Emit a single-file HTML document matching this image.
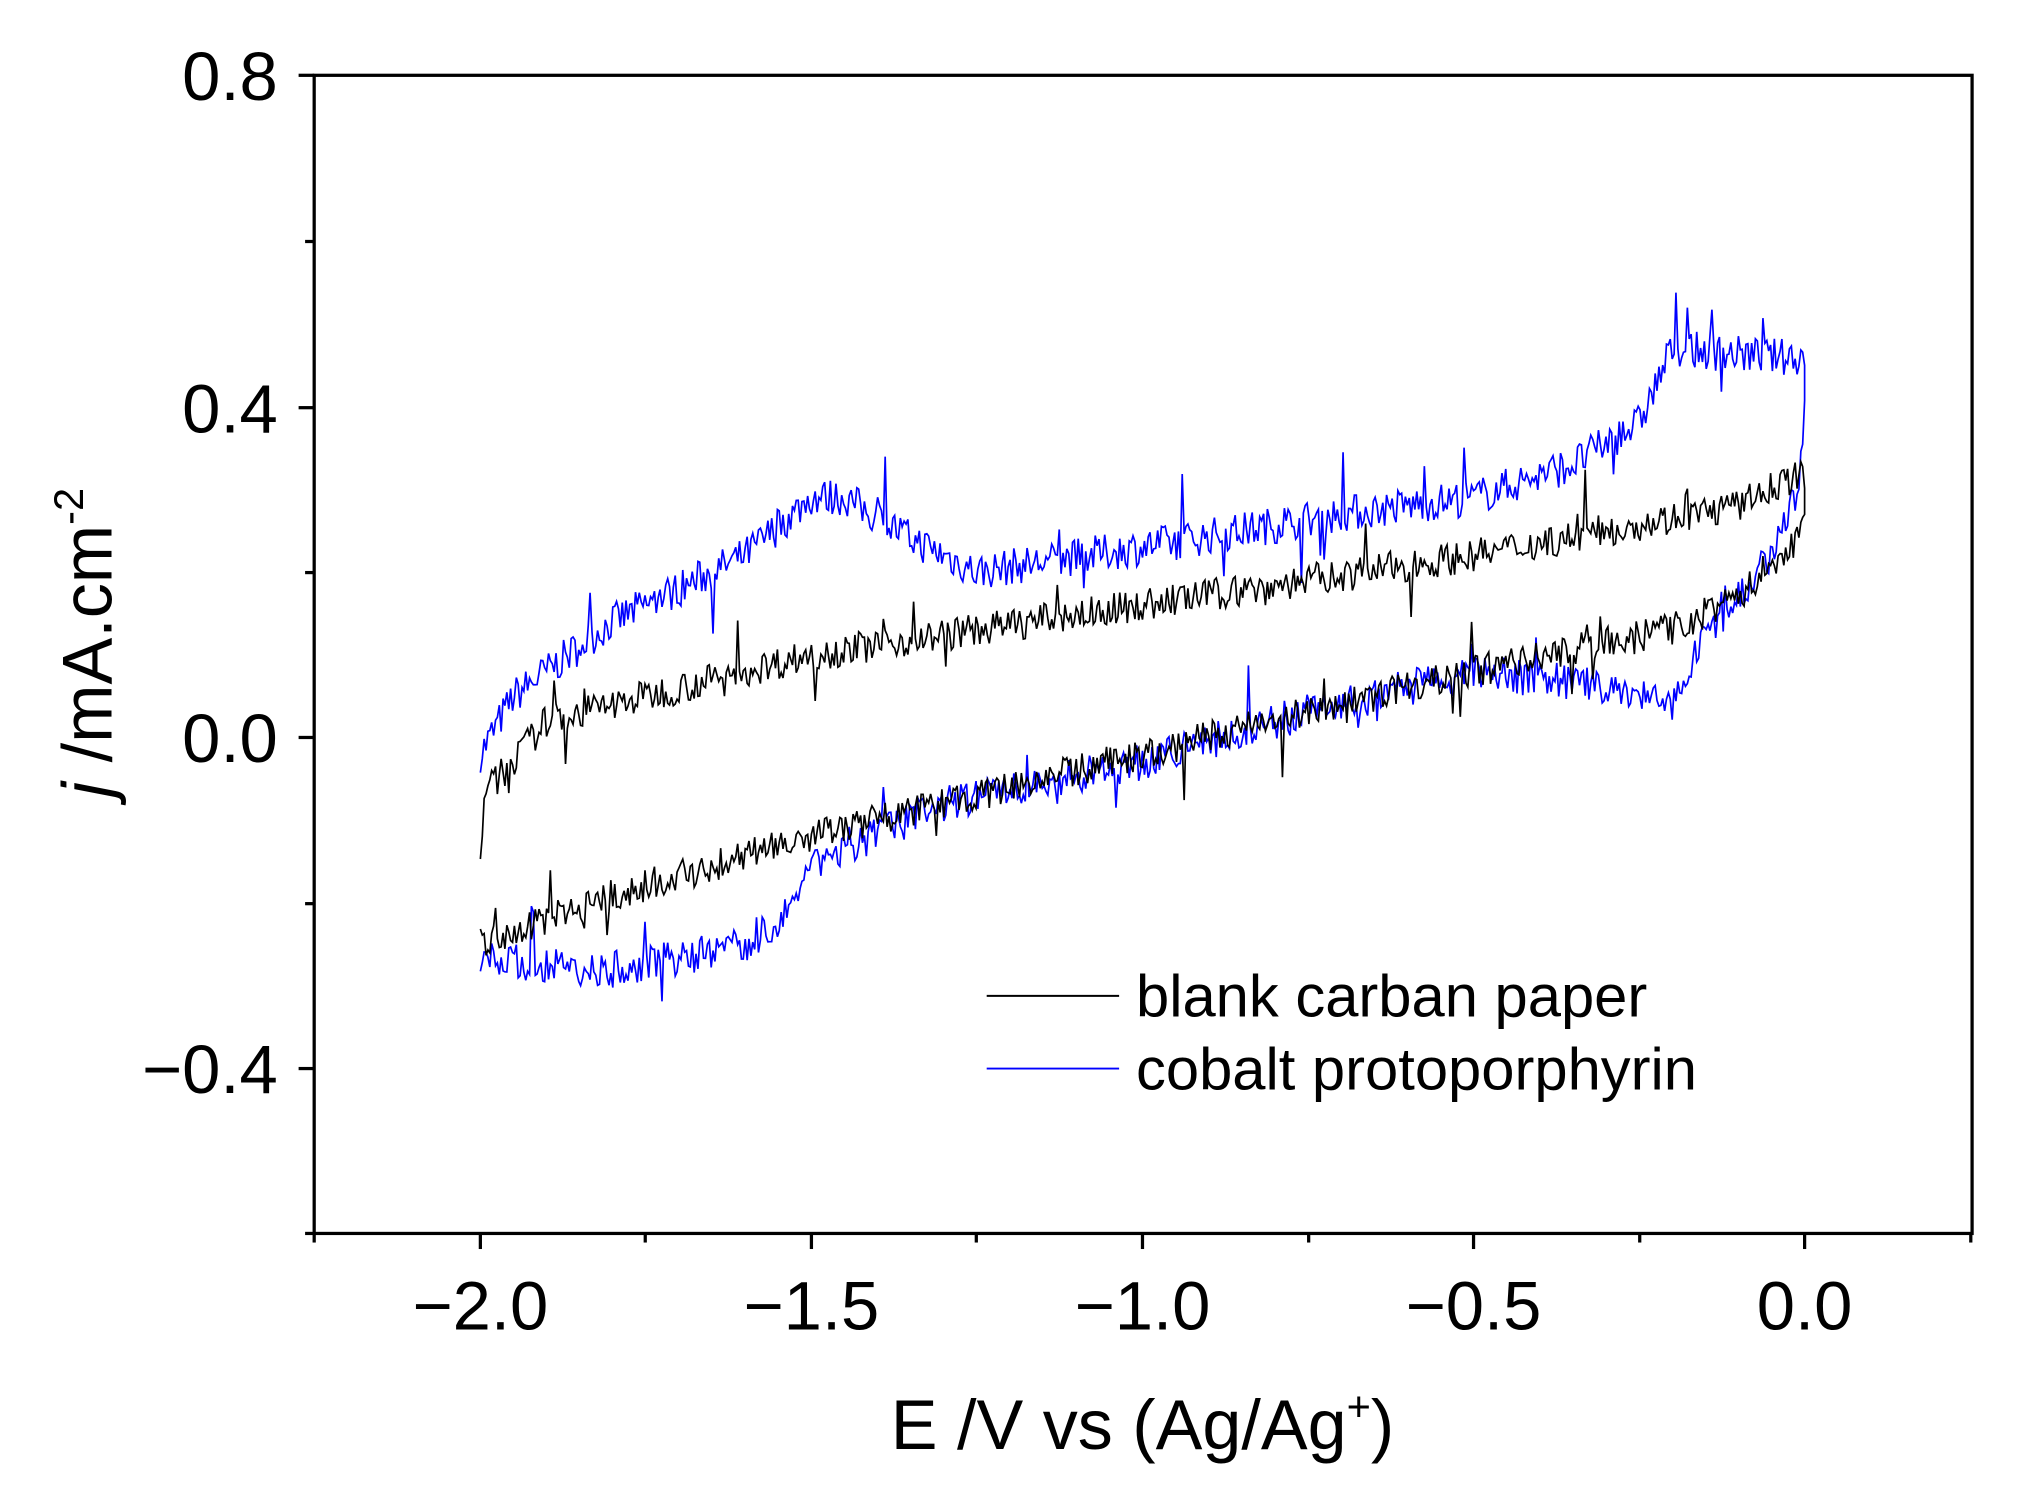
<!DOCTYPE html>
<html><head><meta charset="utf-8"><style>
html,body{margin:0;padding:0;background:#fff;}
svg{display:block;}
text{font-family:"Liberation Sans",Arial,sans-serif;fill:#000;}
</style></head><body>
<svg id="s" width="2037" height="1510" viewBox="0 0 1569 1163" preserveAspectRatio="none">
<rect x="242" y="58" width="1277" height="892" fill="none" stroke="#000" stroke-width="2.5"/>
<g stroke="#000" stroke-width="2.5">
<line x1="230" y1="58" x2="242" y2="58"/><line x1="230" y1="314" x2="242" y2="314"/>
<line x1="230" y1="568" x2="242" y2="568"/><line x1="230" y1="823" x2="242" y2="823"/>
<line x1="235" y1="186" x2="242" y2="186"/><line x1="235" y1="441" x2="242" y2="441"/>
<line x1="235" y1="696" x2="242" y2="696"/><line x1="235" y1="950" x2="242" y2="950"/>
<line x1="370" y1="950" x2="370" y2="962"/><line x1="625" y1="950" x2="625" y2="962"/>
<line x1="880" y1="950" x2="880" y2="962"/><line x1="1135" y1="950" x2="1135" y2="962"/>
<line x1="1390" y1="950" x2="1390" y2="962"/>
<line x1="242" y1="950" x2="242" y2="957"/><line x1="497" y1="950" x2="497" y2="957"/>
<line x1="752" y1="950" x2="752" y2="957"/><line x1="1008" y1="950" x2="1008" y2="957"/>
<line x1="1263" y1="950" x2="1263" y2="957"/><line x1="1518" y1="950" x2="1518" y2="957"/>
</g>
<g font-size="53" text-anchor="end">
<text x="214" y="77">0.8</text><text x="214" y="333">0.4</text>
<text x="214" y="587">0.0</text><text x="214" y="842">−0.4</text>
</g>
<g font-size="53" text-anchor="middle">
<text x="370" y="1024">−2.0</text><text x="625" y="1024">−1.5</text>
<text x="880" y="1024">−1.0</text><text x="1135" y="1024">−0.5</text>
<text x="1390" y="1024">0.0</text>
</g>
<text x="880" y="1116" font-size="54" text-anchor="middle">E /V vs (Ag/Ag<tspan font-size="32" dy="-22">+</tspan><tspan dy="22">)</tspan></text>
<text transform="translate(86,495) rotate(-90)" font-size="54" text-anchor="middle"><tspan font-style="italic">j</tspan> /mA.cm<tspan font-size="32" dy="-22">-2</tspan></text>
<line x1="760" y1="767" x2="862" y2="767" stroke="#000" stroke-width="1.5"/>
<line x1="760" y1="823" x2="862" y2="823" stroke="#0000ff" stroke-width="1.5"/>
<text x="875" y="783" font-size="46">blank carban paper</text>
<text x="875" y="839" font-size="46">cobalt protoporphyrin</text>
<polyline id="pb" fill="none" stroke="#0000ff" stroke-width="1.3"/>
<polyline id="pk" fill="none" stroke="#000" stroke-width="1.3"/>
</svg>
<script>
var seed=7;function rnd(){seed=(seed*16807)%2147483647;return seed/2147483647;}
function X(e){return 1390+e*510;}function Y(j){return 568-j*637.5;}
function interp(p,e){for(var i=0;i<p.length-1;i++){var a=p[i],b=p[i+1];if((e-a[0])*(e-b[0])<=0){var t=(b[0]==a[0])?0:(e-a[0])/(b[0]-a[0]);return a[1]+t*(b[1]-a[1]);}}return p[p.length-1][1];}
function build(up,down,amp){var pts=[];var N=700;
for(var i=0;i<=N;i++){var e=-2+2*i/N;var j=interp(up,e)+(rnd()-0.5)*amp+(rnd()<0.03?(rnd()-0.5)*amp*3:0);pts.push(X(e).toFixed(1)+","+Y(j).toFixed(1));}
for(var i=0;i<=N;i++){var e=-2*i/N;var j=interp(down,e)+(rnd()-0.5)*amp+(rnd()<0.03?(rnd()-0.5)*amp*3:0);pts.push(X(e).toFixed(1)+","+Y(j).toFixed(1));}
return pts.join(" ");}
var kUp=[[-2,-0.15],[-1.995,-0.07],[-1.9,0.02],[-1.5,0.1],[-1.0,0.16],[-0.5,0.22],[-0.1,0.28],[-0.005,0.32],[0,0.32]];
var kDn=[[0,0.25],[-0.1,0.17],[-0.2,0.13],[-0.5,0.08],[-0.8,0.02],[-1.0,-0.02],[-1.5,-0.12],[-1.8,-0.19],[-2.0,-0.25]];
var bUp=[[-2,-0.02],[-1.95,0.05],[-1.8,0.14],[-1.6,0.22],[-1.5,0.29],[-1.45,0.29],[-1.35,0.24],[-1.25,0.2],[-1.0,0.23],[-0.7,0.27],[-0.5,0.29],[-0.35,0.33],[-0.25,0.38],[-0.2,0.47],[-0.05,0.46],[0,0.46]];
var bDn=[[0,0.4],[-0.01,0.3],[-0.05,0.22],[-0.15,0.12],[-0.2,0.04],[-0.3,0.06],[-0.5,0.08],[-0.8,0.02],[-1.0,-0.03],[-1.3,-0.08],[-1.5,-0.15],[-1.55,-0.22],[-1.6,-0.25],[-1.8,-0.28],[-2.0,-0.27]];
document.getElementById("pb").setAttribute("points",build(bUp,bDn,0.045));
document.getElementById("pk").setAttribute("points",build(kUp,kDn,0.04));
</script>
</body></html>
